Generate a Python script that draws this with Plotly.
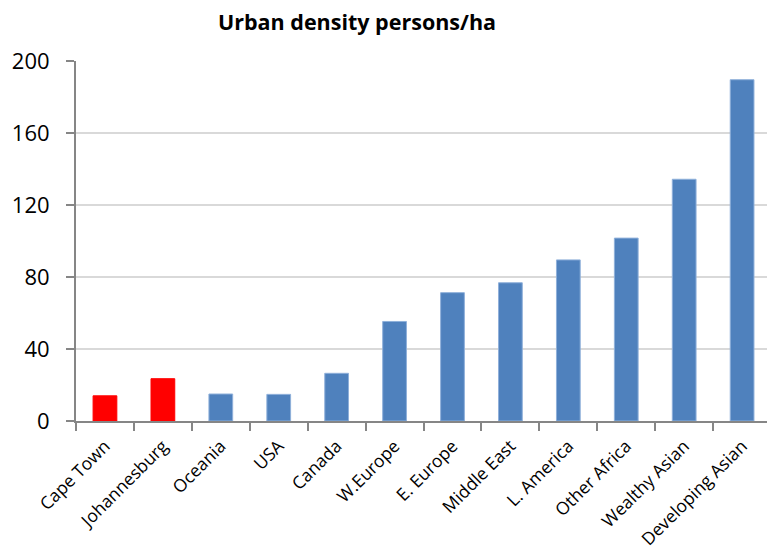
import plotly.graph_objects as go

categories = ["Cape Town", "Johannesburg", "Oceania", "USA", "Canada", "W.Europe",
              "E. Europe", "Middle East", "L. America", "Other Africa", "Wealthy Asian",
              "Developing Asian"]
density = [14, 23.5, 15, 14.8, 26.5, 55.3, 71.3, 76.8, 89.5, 101.6, 134.3, 189.6]
bar_colors = ["#FF0000", "#FF0000"] + ["#4F81BD"] * 10
line_colors = ["#FF0000", "#FF0000"] + ["#8FB0DA"] * 10
y_ticks = [0, 40, 80, 120, 160, 200]

fig = go.Figure(go.Bar(
    x=categories, y=density,
    marker=dict(color=bar_colors, line=dict(color=line_colors, width=1)),
    width=0.41,
))

fig.update_layout(
    width=767, height=552,
    margin=dict(l=76, r=0, t=61, b=131),
    paper_bgcolor="white", plot_bgcolor="white",
    showlegend=False,
    title=dict(text="<b>Urban density persons/ha</b>", x=357/767, xanchor="center",
               y=1 - 22/552, yanchor="middle",
               font=dict(family="Open Sans", size=21.5, color="#000000")),
    font=dict(family="Open Sans", color="#000000"),
)
fig.update_xaxes(
    range=[-0.5, 11.43], automargin=False,
    showline=True, linecolor="#868686", linewidth=2,
    ticks="outside", tickson="boundaries", ticklen=8, tickwidth=2, tickcolor="#868686",
    tickangle=-45, tickfont=dict(size=17.5, family="Open Sans", color="#000000"),
    ticklabelstandoff=6,
    showgrid=False,
)
fig.update_yaxes(
    range=[0, 200], tickvals=y_ticks, automargin=False,
    showline=True, linecolor="#868686", linewidth=2,
    ticks="outside", ticklen=8, tickwidth=2, tickcolor="#868686",
    tickfont=dict(size=22, family="Open Sans", color="#000000"),
    ticklabelstandoff=12,
    showgrid=True, gridcolor="#D9D9D9", gridwidth=2,
    zeroline=False,
)

fig.write_html("out.html")
